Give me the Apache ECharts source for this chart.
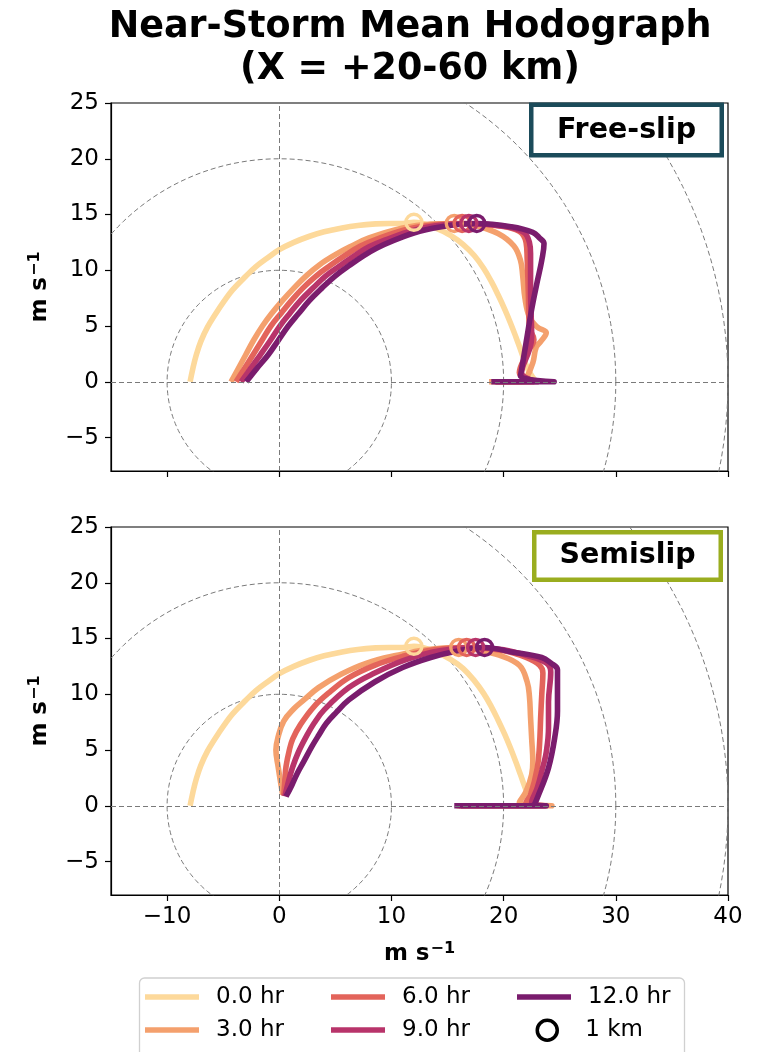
<!DOCTYPE html>
<html>
<head>
<meta charset="utf-8">
<script src="https://cdn.jsdelivr.net/npm/echarts@6/dist/echarts.min.js"></script>
<style>
  html, body { margin: 0; padding: 0; background: #fff; }
  #chart { width: 758px; height: 1052px; }
</style>
</head>
<body>
<div id="chart"></div>
<script>
// ---- series labels and colours -------------------------------------------
const timeLabels = ['0.0 hr', '3.0 hr', '6.0 hr', '9.0 hr', '12.0 hr'];
const timeColors = ['#fdd99b', '#f4a06d', '#e3645b', '#b8346a', '#7a1c6d'];

// ---- axis ticks and range rings (m s^-1) ---------------------------------
const xTicks = [-10, 0, 10, 20, 30, 40];
const yTicks = [-5, 0, 5, 10, 15, 20, 25];
const ringRadii = [10, 20, 30, 40];

// ---- Free-slip hodographs: [u, v] from the surface upward ----------------
const freeSlip00 = [[22.9,0],[22.4,0.7],[22.0,1.5],[21.5,2.9],[21.1,4.0],[20.6,5.3],[20.1,6.5],[19.5,7.8],[18.9,9.0],[18.2,10.2],[17.4,11.3],[16.4,12.3],[15.3,13.1],[14.0,13.75],[12.0,14.3],[11.0,14.2],[9.8,14.2],[8.6,14.16],[7.0,14.02],[5.6,13.8],[4.0,13.45],[2.7,13.05],[1.3,12.5],[0,11.85],[-1.0,11.15],[-2.08,10.33],[-3.1,9.35],[-4.16,8.24],[-4.9,7.25],[-5.64,6.15],[-6.4,4.9],[-7.0,3.6],[-7.4,2.4],[-7.7,1.2],[-7.95,0]];
const freeSlip03 = [[18.7,0],[21.6,0],[22.0,0.3],[22.6,1.7],[22.9,3.1],[23.3,3.6],[23.8,4.4],[23.0,4.9],[22.3,5.8],[21.9,7.5],[21.7,9.5],[21.5,10.9],[20.9,12.2],[19.5,13.3],[17.5,14.0],[15.6,14.2],[13.5,14.15],[11.0,13.8],[8.0,12.9],[6.3,12.1],[5.0,11.4],[3.6,10.5],[2.4,9.5],[1.3,8.4],[0.3,7.3],[-0.7,6.1],[-1.5,5.0],[-2.3,3.7],[-3.0,2.4],[-3.7,1.1],[-4.3,0]];
const freeSlip06 = [[19.2,0],[22.6,0],[21.4,0.8],[22.1,2.6],[22.7,3.8],[22.3,4.9],[22.2,8.0],[22.1,11.0],[22.0,12.5],[21.4,13.5],[19.5,14.0],[16.3,14.2],[14.0,14.1],[11.5,13.7],[8.7,12.8],[7.2,12.15],[5.9,11.35],[4.5,10.4],[3.3,9.5],[2.1,8.4],[1.1,7.3],[0.2,6.2],[-0.75,5.0],[-1.55,3.7],[-2.35,2.4],[-3.1,1.2],[-3.85,0]];
const freeSlip09 = [[19.3,0],[23.0,0],[21.6,0.8],[22.3,2.9],[22.5,4.0],[22.4,8.0],[22.4,11.5],[22.3,12.5],[21.8,13.4],[20.0,13.95],[16.9,14.2],[14.5,14.05],[12.0,13.6],[9.4,12.7],[8.0,12.1],[6.7,11.3],[5.4,10.4],[4.15,9.5],[3.0,8.4],[1.9,7.3],[0.95,6.15],[0.05,5.0],[-0.8,3.7],[-1.7,2.4],[-2.55,1.2],[-3.4,0]];
const freeSlip12 = [[18.9,0],[24.5,0],[21.5,0.5],[21.6,1.1],[22.0,3.5],[22.5,6.5],[23.0,9.0],[23.4,10.9],[23.6,12.4],[23.2,12.9],[22.6,13.4],[20.7,13.9],[17.6,14.2],[15.0,14.0],[12.5,13.5],[10.0,12.6],[8.7,12.0],[7.5,11.3],[6.2,10.4],[5.0,9.5],[3.8,8.4],[2.7,7.3],[1.7,6.1],[0.8,5.0],[-0.1,3.7],[-1.0,2.4],[-2.0,1.2],[-2.95,0]];
const freeSlipOneKm = [[12.0,14.3],[15.6,14.2],[16.3,14.2],[16.9,14.2],[17.6,14.2]];

// ---- Semislip hodographs: [u, v] from the surface upward -----------------
const semiSlip00 = [[22.7,0],[22.3,0.7],[22.0,1.4],[21.5,2.8],[21.1,3.9],[20.6,5.2],[20.1,6.4],[19.5,7.7],[18.9,8.9],[18.2,10.1],[17.4,11.2],[16.4,12.3],[15.3,13.1],[14.0,13.75],[12.0,14.3],[11.0,14.2],[9.8,14.2],[8.6,14.16],[7.0,14.02],[5.6,13.8],[4.0,13.45],[2.7,13.05],[1.3,12.5],[0,11.85],[-1.0,11.15],[-2.08,10.33],[-3.1,9.35],[-4.16,8.24],[-4.9,7.25],[-5.64,6.15],[-6.4,4.9],[-7.0,3.6],[-7.4,2.4],[-7.7,1.2],[-7.95,0]];
const semiSlip03 = [[15.8,0],[24.3,0],[21.4,0.3],[22.0,1.3],[22.5,2.8],[22.6,4.0],[22.5,6.0],[22.4,7.9],[22.3,9.8],[22.1,11.1],[21.4,12.6],[19.6,13.5],[17.8,13.95],[16.0,14.2],[13.1,14.0],[10.5,13.5],[7.8,12.8],[5.5,11.8],[3.5,10.6],[2.2,9.5],[1.3,8.7],[0.4,7.6],[-0.1,6.2],[-0.3,5.0],[-0.1,3.5],[0.3,1.0]];
const semiSlip06 = [[16.0,0],[23.6,0],[22.0,0.3],[22.4,1.0],[23.0,3.4],[23.2,5.5],[23.3,7.9],[23.4,10.0],[23.5,11.9],[23.2,12.6],[22.0,13.3],[20.0,13.9],[16.7,14.2],[13.8,14.0],[11.0,13.4],[8.5,12.6],[6.2,11.5],[4.5,10.2],[3.1,8.9],[1.9,7.3],[1.2,6.0],[0.9,5.0],[0.6,3.5],[0.5,2.3],[0.4,0.9]];
const semiSlip09 = [[16.2,0],[23.7,0],[22.5,0.3],[23.0,1.6],[23.5,3.5],[23.8,4.8],[24.0,7.0],[24.0,9.3],[24.2,12.0],[23.8,12.8],[22.0,13.5],[20.0,14.0],[17.5,14.2],[14.3,13.9],[11.3,13.1],[8.5,11.9],[6.2,10.6],[4.0,8.6],[3.1,7.4],[2.4,6.2],[1.7,4.8],[1.2,3.5],[0.8,2.1],[0.5,0.85]];
const semiSlip12 = [[15.6,0],[23.8,0],[22.7,0],[23.0,0.7],[24.0,3.4],[24.6,6.4],[24.8,8.5],[24.8,10.8],[24.8,12.2],[24.2,12.8],[23.4,13.3],[20.7,13.8],[18.3,14.2],[16.0,13.9],[13.5,13.3],[11.0,12.4],[8.5,11.1],[6.2,9.5],[5.1,8.4],[4.2,7.4],[3.5,6.3],[2.9,5.3],[2.2,4.0],[1.6,2.9],[1.1,1.8],[0.6,0.83]];
const semiSlipOneKm = [[12.0,14.3],[16.0,14.2],[16.7,14.2],[17.5,14.2],[18.3,14.2]];

const panels = [
  { curves: [freeSlip00, freeSlip03, freeSlip06, freeSlip09, freeSlip12], oneKm: freeSlipOneKm },
  { curves: [semiSlip00, semiSlip03, semiSlip06, semiSlip09, semiSlip12], oneKm: semiSlipOneKm }
];

const FONT = 'DejaVu Sans';
const minusFmt = v => (v < 0 ? '\u2212' + Math.abs(v) : String(v));
const unitName = 'm s{sup|\u22121}';
const unitStyle = {
  fontFamily: FONT, fontSize: 23, fontWeight: 'bold', color: '#000',
  rich: { sup: { fontFamily: FONT, fontSize: 16, fontWeight: 'bold', color: '#000', verticalAlign: 'top', padding: [0, 0, 10, 1] } }
};

// dashed range ring through the library's own scales
function ringPoints(r) {
  const pts = [];
  for (let a = 0; a <= 360; a += 2) {
    const t = a * Math.PI / 180;
    pts.push([r * Math.cos(t), r * Math.sin(t)]);
  }
  return pts;
}

const gridBoxes = [
  { left: 111, top: 103, width: 617, height: 368 },
  { left: 111, top: 527, width: 617, height: 368 }
];

const grid = gridBoxes.map(b => Object.assign({ show: true, borderColor: '#000', borderWidth: 1.2, backgroundColor: 'transparent' }, b));

const xAxis = gridBoxes.map((b, g) => ({
  type: 'value', gridIndex: g, min: -15, max: 40,
  axisLine: { show: true, onZero: false, lineStyle: { color: '#000', width: 1.2 } },
  axisTick: { show: true, customValues: xTicks, length: 6, lineStyle: { color: '#000', width: 1.2 } },
  axisLabel: { show: g === 1, customValues: xTicks, formatter: minusFmt, fontFamily: FONT, fontSize: 23, color: '#000', margin: 11 },
  splitLine: { show: false },
  name: g === 1 ? unitName : '',
  nameLocation: 'middle', nameGap: 46, nameTextStyle: unitStyle
}));

const yAxis = gridBoxes.map((b, g) => ({
  type: 'value', gridIndex: g, min: -8, max: 25,
  axisLine: { show: true, onZero: false, lineStyle: { color: '#000', width: 1.2 } },
  axisTick: { show: true, customValues: yTicks, length: 6, lineStyle: { color: '#000', width: 1.2 } },
  axisLabel: { show: true, customValues: yTicks, formatter: minusFmt, fontFamily: FONT, fontSize: 23, color: '#000', margin: 12 },
  splitLine: { show: false },
  name: unitName, nameLocation: 'middle', nameGap: 58, nameRotate: 90, nameTextStyle: unitStyle
}));

const refLine = { color: '#7a7a7a', width: 1, type: [5, 3] };
const series = [];
panels.forEach((p, g) => {
  ringRadii.forEach((r, k) => {
    const s = {
      type: 'line', xAxisIndex: g, yAxisIndex: g, data: ringPoints(r),
      symbol: 'none', silent: true, clip: true, z: 1, animation: false,
      lineStyle: refLine
    };
    if (k === 0) {
      s.markLine = {
        silent: true, symbol: 'none', animation: false, label: { show: false },
        lineStyle: refLine, data: [{ xAxis: 0 }, { yAxis: 0 }]
      };
    }
    series.push(s);
  });
  p.curves.forEach((curve, i) => {
    series.push({
      type: 'line', name: timeLabels[i], xAxisIndex: g, yAxisIndex: g, data: curve,
      symbol: 'none', smooth: 0.4, clip: true, z: 2, animation: false,
      itemStyle: { color: timeColors[i] },
      lineStyle: { color: timeColors[i], width: 5.6, join: 'round', cap: 'butt', opacity: 1 }
    });
    series.push({
      type: 'scatter', name: '1 km', xAxisIndex: g, yAxisIndex: g, data: [p.oneKm[i]],
      symbol: 'circle', symbolSize: 16, z: 2, animation: false, silent: true,
      itemStyle: { color: 'rgba(255,255,255,0)', borderColor: timeColors[i], borderWidth: 3.4, opacity: 1 }
    });
  });
});

// legend: three columns, two rows
const legendText = { fontFamily: FONT, fontSize: 23, color: '#000', padding: [0, 0, 0, 12] };
const legendSlots = [
  { name: '0.0 hr', left: 145, top: 985.5 },
  { name: '3.0 hr', left: 145, top: 1018.5 },
  { name: '6.0 hr', left: 331, top: 985.5 },
  { name: '9.0 hr', left: 331, top: 1018.5 },
  { name: '12.0 hr', left: 517, top: 985.5 }
];
const legend = legendSlots.map(s => {
  const idx = timeLabels.indexOf(s.name);
  return {
    left: s.left, top: s.top, padding: 0, orient: 'horizontal', selectedMode: false,
    icon: 'rect', itemWidth: 54, itemHeight: 5.5, textStyle: legendText,
    data: [{ name: s.name, itemStyle: { color: timeColors[idx], borderWidth: 0 } }]
  };
});
legend.push({
  left: 535.5, top: 1018.5, padding: 0, selectedMode: false,
  icon: 'circle', itemWidth: 20, itemHeight: 20,
  textStyle: Object.assign({}, legendText, { padding: [0, 0, 0, 23] }),
  data: [{ name: '1 km', itemStyle: { color: '#fff', borderColor: '#000', borderWidth: 3.5 } }]
});

const option = {
  backgroundColor: '#fff',
  animation: false,
  title: {
    text: 'Near-Storm Mean Hodograph\n(X = +20-60 km)',
    left: 410, top: 7, textAlign: 'center', padding: 0,
    textStyle: { fontFamily: FONT, fontSize: 36.5, fontWeight: 'bold', lineHeight: 42, color: '#000' }
  },
  grid, xAxis, yAxis, series, legend,
  graphic: [
    { type: 'rect', z: 0, shape: { x: 139.5, y: 978, width: 545, height: 100, r: 5 },
      style: { fill: '#fff', stroke: '#d0d0d0', lineWidth: 1.3 } },
    { type: 'rect', z: 100, shape: { x: 531.25, y: 104.75, width: 190.5, height: 50.5 },
      style: { fill: '#fff', stroke: '#1b4b5a', lineWidth: 4.5 } },
    { type: 'text', z: 101, style: { text: 'Free-slip', x: 626.5, y: 130.5, align: 'center', verticalAlign: 'middle',
      fontFamily: FONT, fontSize: 28.5, fontWeight: 'bold', fill: '#000' } },
    { type: 'rect', z: 100, shape: { x: 534.25, y: 532.25, width: 186.5, height: 47.5 },
      style: { fill: '#fff', stroke: '#9aad1f', lineWidth: 4.5 } },
    { type: 'text', z: 101, style: { text: 'Semislip', x: 627.5, y: 556, align: 'center', verticalAlign: 'middle',
      fontFamily: FONT, fontSize: 28.5, fontWeight: 'bold', fill: '#000' } }
  ]
};

const chart = echarts.init(document.getElementById('chart'), null, { renderer: 'canvas' });
chart.setOption(option);
</script>
</body>
</html>
